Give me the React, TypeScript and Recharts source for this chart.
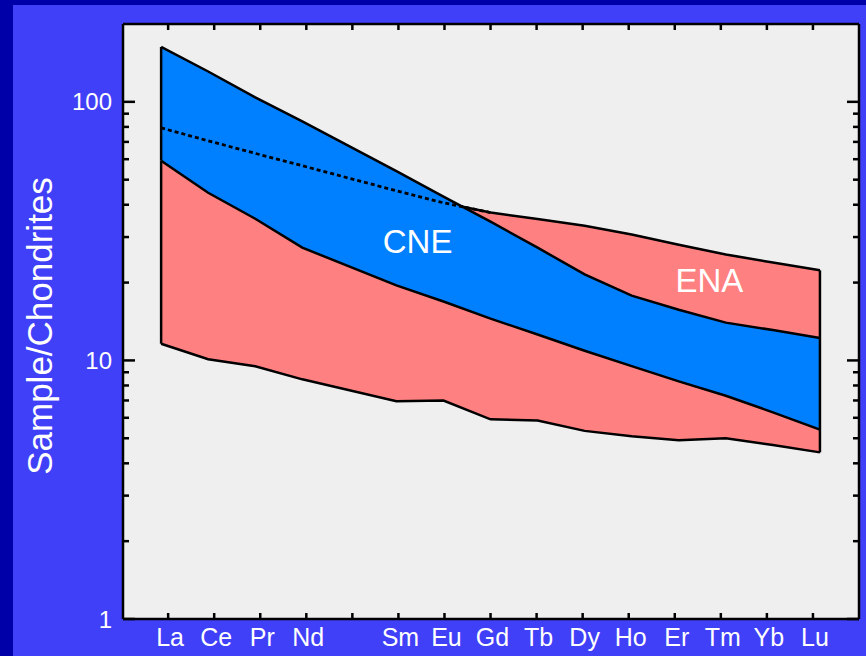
import React from 'react';
import {
  ComposedChart,
  Area,
  Line,
  XAxis,
  YAxis,
  CartesianGrid,
  ReferenceLine,
  ReferenceDot,
} from 'recharts';

// Rare-earth elements in atomic order (Pm carries no analyses)
const elements = ['La', 'Ce', 'Pr', 'Nd', 'Pm', 'Sm', 'Eu', 'Gd', 'Tb', 'Dy', 'Ho', 'Er', 'Tm', 'Yb', 'Lu'];
const elementLabels = ['La', 'Ce', 'Pr', 'Nd', '', 'Sm', 'Eu', 'Gd', 'Tb', 'Dy', 'Ho', 'Er', 'Tm', 'Yb', 'Lu'];

// Chondrite-normalised ranges (max / min) per element
const cneHigh = [163, 131, 104, 84, null, 54, 43, 34.4, 27.3, 21.5, 17.8, 15.7, 14.0, 13.1, 12.2];
const cneLow = [59.2, 44.5, 35.3, 27.3, null, 19.5, 16.9, 14.5, 12.6, 10.9, 9.5, 8.3, 7.3, 6.3, 5.4];
const enaHigh = [79.3, 70.7, 63.2, 56.6, null, 45.3, 40.7, 37.3, 35.2, 33.2, 30.7, 28.0, 25.7, 23.9, 22.3];
const enaLow = [11.6, 10.1, 9.5, 8.45, null, 6.95, 7.0, 5.92, 5.86, 5.34, 5.09, 4.91, 5.0, 4.71, 4.41];

const yTicks = [1, 2, 3, 4, 5, 6, 7, 8, 9, 10, 20, 30, 40, 50, 60, 70, 80, 90, 100];
const yMajor = [1, 10, 100];
const elementTicks = elements.map((_, i) => i);

const FONT = '"Liberation Sans", Arial, Helvetica, sans-serif';
const OUTLINE = 2.5;

type Row = {
  x: number;
  cne: [number, number];
  ena: [number, number];
  enaCovered: number | null;
};

const valid = elements
  .map((_, i) => i)
  .filter((i) => cneHigh[i] != null && enaHigh[i] != null);

// ENA upper limit where it runs underneath the CNE band is shown dotted
const rows: Row[] = valid.map((i, k) => {
  const under = (j: number) => (enaHigh[j] as number) < (cneHigh[j] as number);
  const prev = k > 0 ? valid[k - 1] : -1;
  const covered = under(i) || (prev >= 0 && under(prev));
  return {
    x: i,
    cne: [cneLow[i] as number, cneHigh[i] as number],
    ena: [enaLow[i] as number, enaHigh[i] as number],
    enaCovered: covered ? (enaHigh[i] as number) : null,
  };
});

const first = valid[0];
const last = valid[valid.length - 1];

const LeftTick = (props: any) => {
  const { x, y, payload } = props;
  const major = yMajor.includes(payload.value);
  return (
    <g>
      <line x1={x} x2={x + (major ? 12 : 6)} y1={y} y2={y} stroke="#000" strokeWidth={2.5} />
      {major && (
        <text
          x={x - 11}
          y={y}
          dy="0.36em"
          textAnchor="end"
          fill="#ffffff"
          fontSize={24}
          fontFamily={FONT}
        >
          {payload.value}
        </text>
      )}
    </g>
  );
};

const RightTick = (props: any) => {
  const { x, y, payload } = props;
  const major = yMajor.includes(payload.value);
  return <line x1={x} x2={x - (major ? 12 : 6)} y1={y} y2={y} stroke="#000" strokeWidth={2.5} />;
};

const BottomTick = (props: any) => {
  const { x, y, payload } = props;
  return (
    <g>
      <line x1={x} x2={x} y1={y} y2={y - 6} stroke="#000" strokeWidth={2.5} />
      <text
        x={x + 2}
        y={y + 18}
        dy="0.36em"
        textAnchor="middle"
        fill="#ffffff"
        fontSize={25}
        fontFamily={FONT}
      >
        {elementLabels[payload.value]}
      </text>
    </g>
  );
};

const TopTick = (props: any) => {
  const { x, y } = props;
  return <line x1={x} x2={x} y1={y} y2={y + 6} stroke="#000" strokeWidth={2.5} />;
};

export default function App() {
  return (
    <div
      style={{
        position: 'fixed',
        left: 0,
        top: 0,
        width: 866,
        height: 656,
        background: '#0000a8',
        overflow: 'hidden',
      }}
    >
      <div
        style={{
          position: 'absolute',
          left: 13,
          top: 5,
          right: 0,
          bottom: 0,
          background: '#4040f8',
        }}
      />
      <div
        style={{
          position: 'absolute',
          left: 39,
          top: 326,
          transform: 'translate(-50%, -50%) rotate(-90deg)',
          whiteSpace: 'nowrap',
          color: '#ffffff',
          fontFamily: FONT,
          fontSize: 35,
          lineHeight: 1,
        }}
      >
        Sample/Chondrites
      </div>
      <div style={{ position: 'absolute', left: 0, top: 0 }}>
        <ComposedChart
          width={866}
          height={656}
          data={rows}
          margin={{ top: 23, right: 6, bottom: 36, left: 122 }}
        >
          <CartesianGrid fill="#efefef" horizontal={false} vertical={false} />
          <XAxis
            dataKey="x"
            type="number"
            domain={[-0.81, 14.83]}
            allowDataOverflow
            height={0}
            hide
          />
          <XAxis
            xAxisId="ticks"
            dataKey="x"
            type="number"
            domain={[-0.98, 15]}
            allowDataOverflow
            ticks={elementTicks}
            interval={0}
            height={1}
            tickSize={0}
            tickMargin={0}
            tickLine={false}
            axisLine={{ stroke: '#000', strokeWidth: 2.5 }}
            tick={<BottomTick />}
          />
          <XAxis
            xAxisId="top"
            orientation="top"
            dataKey="x"
            type="number"
            domain={[-0.98, 15]}
            allowDataOverflow
            ticks={elementTicks}
            interval={0}
            height={1}
            tickSize={0}
            tickMargin={0}
            tickLine={false}
            axisLine={{ stroke: '#000', strokeWidth: 2.5 }}
            tick={<TopTick />}
          />
          <YAxis
            type="number"
            scale="log"
            domain={[1, 200]}
            allowDataOverflow
            ticks={yTicks}
            interval={0}
            width={1}
            tickSize={0}
            tickMargin={0}
            tickLine={false}
            axisLine={{ stroke: '#000', strokeWidth: 2.5 }}
            tick={<LeftTick />}
          />
          <YAxis
            yAxisId="r"
            orientation="right"
            type="number"
            scale="log"
            domain={[1, 200]}
            allowDataOverflow
            ticks={yTicks}
            interval={0}
            width={1}
            tickSize={0}
            tickMargin={0}
            tickLine={false}
            axisLine={{ stroke: '#000', strokeWidth: 2.5 }}
            tick={<RightTick />}
          />
          <Area
            dataKey="ena"
            type="linear"
            fill="#ff8080"
            fillOpacity={1}
            stroke="#000"
            strokeWidth={OUTLINE}
            isAnimationActive={false}
            dot={false}
            activeDot={false}
          />
          <Area
            dataKey="cne"
            type="linear"
            fill="#0080ff"
            fillOpacity={1}
            stroke="#000"
            strokeWidth={OUTLINE}
            isAnimationActive={false}
            dot={false}
            activeDot={false}
          />
          <Line
            dataKey="enaCovered"
            type="linear"
            stroke="#000"
            strokeWidth={2.8}
            strokeDasharray="4 3"
            dot={false}
            activeDot={false}
            isAnimationActive={false}
          />
          <ReferenceLine
            segment={[
              { x: first, y: enaLow[first] as number },
              { x: first, y: cneLow[first] as number },
            ]}
            stroke="#000"
            strokeWidth={OUTLINE}
          />
          <ReferenceLine
            segment={[
              { x: first, y: cneLow[first] as number },
              { x: first, y: cneHigh[first] as number },
            ]}
            stroke="#000"
            strokeWidth={OUTLINE}
          />
          <ReferenceLine
            segment={[
              { x: last, y: enaLow[last] as number },
              { x: last, y: enaHigh[last] as number },
            ]}
            stroke="#000"
            strokeWidth={OUTLINE}
          />
          <ReferenceDot
            x={5.45}
            y={29}
            r={0}
            fill="none"
            stroke="none"
            label={{ value: 'CNE', position: 'center', fill: '#ffffff', fontSize: 33, fontFamily: FONT }}
          />
          <ReferenceDot
            x={11.65}
            y={20.4}
            r={0}
            fill="none"
            stroke="none"
            label={{ value: 'ENA', position: 'center', fill: '#ffffff', fontSize: 33, fontFamily: FONT }}
          />
        </ComposedChart>
      </div>
    </div>
  );
}
